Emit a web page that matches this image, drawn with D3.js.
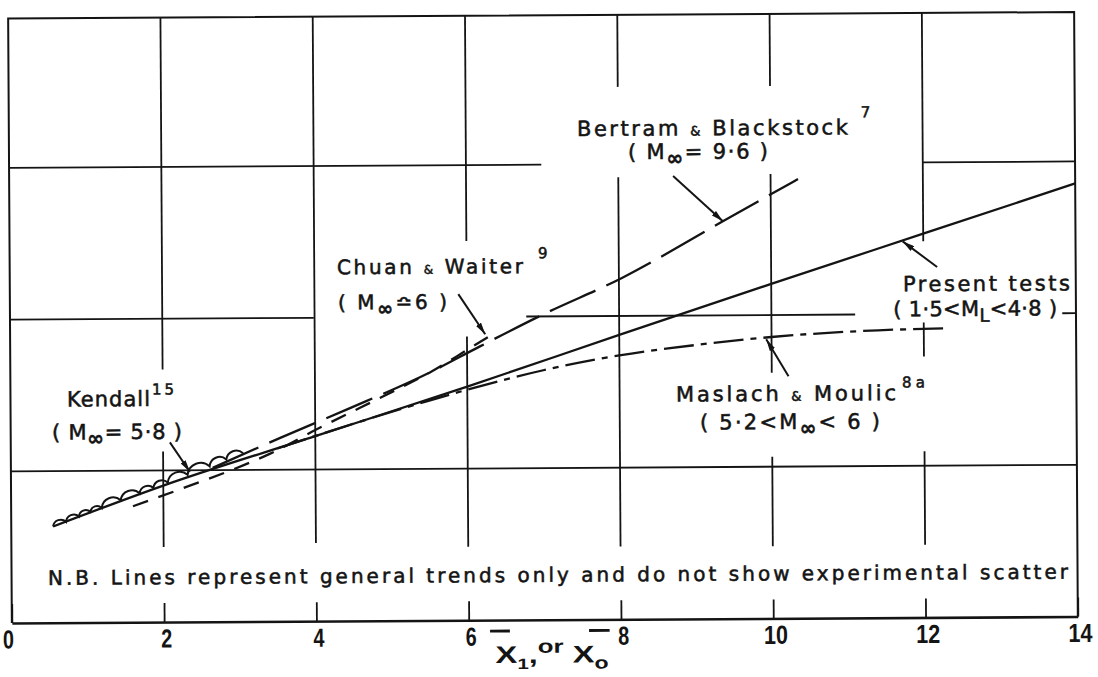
<!DOCTYPE html>
<html>
<head>
<meta charset="utf-8">
<script src="https://cdn.jsdelivr.net/npm/d3@7"></script>
<style>
  html, body { margin: 0; padding: 0; background: #fff; }
  svg { display: block; }
  text { font-family: "DejaVu Sans", "Liberation Sans", sans-serif; fill: #141414; }
</style>
</head>
<body>
<svg id="chart" width="1098" height="677"></svg>
<script>
// ---- data -------------------------------------------------------------
const xTicks = [0, 2, 4, 6, 8, 10, 12, 14];

// Present tests (1.5 < M_L < 4.8) – solid trend line
const presentTests = [[0.55, 1.27], [2, 1.80], [4, 2.44], [6, 3.08], [8, 3.75], [10, 4.41], [12, 5.06], [14, 5.71]];

// Bertram & Blackstock (M = 9.6) – long dashes
const bertram = [[2.65, 2.03], [3.54, 2.42], [4.42, 2.79], [5.51, 3.27], [6.17, 3.61], [7.01, 4.03], [8.04, 4.50], [9.37, 5.24], [10.36, 5.79]];

// Chuan & Waiter (M ~ 6) – short dashes
const chuan = [[1.60, 1.53], [2.33, 1.79], [3.05, 2.06], [3.40, 2.21], [4.02, 2.53], [4.59, 2.81], [5.12, 3.07], [5.51, 3.27], [6.01, 3.57], [6.37, 3.79]];

// Maslach & Moulic (5.2 < M < 6) – chain line
const maslach = [[3.5, 2.28], [4.5, 2.60], [5.5, 2.90], [6.0, 3.04], [7.0, 3.29], [8.0, 3.48], [9.0, 3.61], [10.0, 3.71], [11.4, 3.79], [12.3, 3.81]];

// Kendall (M = 5.8) – cusps of the scalloped trace
const kendall = [[0.55, 1.27], [0.72, 1.33], [0.89, 1.40], [1.04, 1.46], [1.19, 1.51], [1.44, 1.61], [1.69, 1.70], [1.87, 1.77], [2.06, 1.84], [2.32, 1.94], [2.61, 2.05], [2.83, 2.14], [3.05, 2.22]];

// ---- layout -----------------------------------------------------------
const x = d3.scaleLinear().domain([0, 14]).range([10, 1076]);
const y = d3.scaleLinear().domain([0, 8]).range([619.8, 13]);
const ink = "#141414";
const TOP = 7.97;

const svg = d3.select("#chart");
svg.append("rect").attr("width", 1098).attr("height", 677).attr("fill", "#fff");
const g = svg.append("g").attr("transform", "rotate(-0.35,543,320)");

// grid: pieces of the ruled lines, broken where lettering sits
const vGrid = [
  { v: 2,  spans: [[3.33, TOP], [0.99, 2.25]] },
  { v: 4,  spans: [[1.03, TOP]] },
  { v: 6,  spans: [[5.0, TOP], [0.97, 3.74]] },
  { v: 8,  spans: [[7.02, TOP], [0.96, 5.83]] },
  { v: 10, spans: [[7.02, TOP], [3.24, 5.86], [0.95, 2.13]] },
  { v: 12, spans: [[4.96, TOP], [3.44, 3.89], [0.96, 2.19]] }
];
const hGrid = [
  { v: 2, spans: [[0, 14]] },
  { v: 4, spans: [[0, 3.99], [6.78, 11.10], [13.82, 14]] },
  { v: 6, spans: [[0, 6.99], [12.0, 14]] }
];

const grid = g.append("g").attr("stroke", ink).attr("stroke-width", 1.8).attr("fill", "none");
vGrid.forEach(d => d.spans.forEach(s => {
  grid.append("line").attr("x1", x(d.v)).attr("x2", x(d.v)).attr("y1", y(s[0])).attr("y2", y(s[1]));
}));
hGrid.forEach(d => d.spans.forEach(s => {
  grid.append("line").attr("y1", y(d.v)).attr("y2", y(d.v)).attr("x1", x(s[0])).attr("x2", x(s[1]));
}));

// frame
g.append("path")
  .attr("d", `M${x(0)},${y(0)}V${y(TOP)}H${x(14)}V${y(0)}`)
  .attr("fill", "none").attr("stroke", ink).attr("stroke-width", 2);

// bottom axis: short inward ticks and numbers
const axis = d3.axisBottom(x).tickValues(xTicks).tickSizeInner(-19).tickSizeOuter(0).tickPadding(7)
  .tickFormat(d3.format("d"));
const ax = g.append("g").attr("transform", `translate(0,${y(0)})`).call(axis);
ax.select(".domain").attr("stroke", ink).attr("stroke-width", 2.6);
ax.selectAll(".tick line").attr("stroke", ink).attr("stroke-width", 1.8);
ax.selectAll(".tick text")
  .attr("fill", ink)
  .style("font-family", "'Liberation Sans', 'DejaVu Sans', sans-serif")
  .style("font-size", "26px")
  .style("font-weight", "bold")
  .attr("textLength", d => d >= 10 ? 24 : 11)
  .attr("lengthAdjust", "spacingAndGlyphs")
  .attr("dx", d => d === 0 ? -4 : 2);

// axis title: x̄1, or x̄0
const title = g.append("text")
  .attr("x", x(6.35)).attr("y", y(0) + 43)
  .style("font-family", "'Liberation Sans', 'DejaVu Sans', sans-serif")
  .style("font-size", "24px")
  .style("font-weight", "bold")
  .attr("textLength", 113).attr("lengthAdjust", "spacingAndGlyphs");
title.append("tspan").text("X");
title.append("tspan").attr("dy", 6).style("font-size", "15px").text("1");
title.append("tspan").attr("dy", -6).text(",");
title.append("tspan").attr("dy", -10).style("font-size", "19px").text("or");
title.append("tspan").attr("dy", 10).text(" X");
title.append("tspan").attr("dy", 6).style("font-size", "17px").text("o");
[[6.28, 6.54], [7.58, 7.85]].forEach(b => {
  g.append("line").attr("x1", x(b[0])).attr("x2", x(b[1]))
    .attr("y1", y(0) + 11).attr("y2", y(0) + 11)
    .attr("stroke", ink).attr("stroke-width", 2.8);
});

// ---- trend lines ------------------------------------------------------
const line = d3.line().x(d => x(d[0])).y(d => y(d[1])).curve(d3.curveMonotoneX);
const curves = g.append("g").attr("fill", "none").attr("stroke", ink).attr("stroke-width", 2.3);

curves.append("path").datum(presentTests).attr("d", line);
curves.append("path").datum(bertram).attr("d", line).attr("stroke-dasharray", "50,12");
curves.append("path").datum(chuan).attr("d", line).attr("stroke-dasharray", "16,11");
curves.append("path").datum(maslach).attr("d", line).attr("stroke-dasharray", "30,7,6,7");

// Kendall: a run of small arcs between successive cusps
const scallop = pts => {
  let p = `M${x(pts[0][0])},${y(pts[0][1])}`;
  for (let i = 1; i < pts.length; i++) {
    const x0 = x(pts[i - 1][0]), y0 = y(pts[i - 1][1]);
    const x1 = x(pts[i][0]), y1 = y(pts[i][1]);
    const r = 0.56 * Math.hypot(x1 - x0, y1 - y0);
    p += `A${r},${r} 0 0 1 ${x1},${y1}`;
  }
  return p;
};
curves.append("path").datum(kendall).attr("d", scallop).attr("stroke-width", 2);

// ---- pointers ---------------------------------------------------------
const pointers = [
  { from: [2.09, 2.37], to: [2.35, 1.98] },
  { from: [5.89, 4.30], to: [6.24, 3.77] },
  { from: [8.72, 5.84], to: [9.37, 5.24] },
  { from: [12.18, 4.62], to: [11.73, 4.96] },
  { from: [10.22, 3.19], to: [9.93, 3.68] }
];
svg.append("defs").append("marker")
  .attr("id", "head").attr("viewBox", "0 0 12 6").attr("refX", 12).attr("refY", 3)
  .attr("markerWidth", 12).attr("markerHeight", 6).attr("markerUnits", "userSpaceOnUse")
  .attr("orient", "auto")
  .append("path").attr("d", "M0,0L12,3L0,6Z").attr("fill", ink);
g.append("g").selectAll("line").data(pointers).join("line")
  .attr("x1", d => x(d.from[0])).attr("y1", d => y(d.from[1]))
  .attr("x2", d => x(d.to[0])).attr("y2", d => y(d.to[1]))
  .attr("stroke", ink).attr("stroke-width", 2).attr("marker-end", "url(#head)");

// ---- lettering --------------------------------------------------------
const amp = { t: "&", small: true };
const inf = { t: "∞", sub: true, heavy: true };
const notes = [
  { at: [7.46, 6.374], size: 21, len: 271, parts: ["Bertram ", amp, " Blackstock"] },
  { at: [11.19, 6.60], size: 15, parts: ["7"] },
  { at: [8.13, 6.066], size: 21, len: 140, parts: ["( M", inf, "= 9·6 )"] },
  { at: [4.298, 4.572], size: 20, len: 186, parts: ["Chuan ", amp, " Waiter"] },
  { at: [6.94, 4.766], size: 15, parts: ["9"] },
  { at: [4.309, 4.109], size: 20, len: 109, parts: ["( M", inf, "≏6 )"] },
  { at: [0.742, 2.85], size: 21, len: 83, parts: ["Kendall"] },
  { at: [1.859, 3.002], size: 15, len: 22, parts: ["15"] },
  { at: [0.542, 2.416], size: 21, len: 130, parts: ["( M", inf, "= 5·8 )"] },
  { at: [11.73, 4.301], size: 21, len: 167, parts: ["Present tests"] },
  { at: [11.60, 3.972], size: 21, len: 164, parts: ["( 1·5<M", { t: "L", sub: true }, "<4·8 )"] },
  { at: [8.74, 2.867], size: 21, len: 220, parts: ["Maslach ", amp, " Moulic"] },
  { at: [11.71, 3.034], size: 15, len: 23, parts: ["8a"] },
  { at: [9.053, 2.495], size: 21, len: 180, parts: ["( 5·2<M", inf, "< 6 )"] },
  { at: [0.478, 0.50], size: 20, len: 1020, parts: ["N.B. Lines represent general trends only and do not show experimental scatter"] }
];
notes.forEach(n => {
  const t = g.append("text").attr("x", x(n.at[0])).attr("y", y(n.at[1]))
    .style("font-size", n.size + "px")
    .attr("stroke", ink).attr("stroke-width", 0.55);
  if (n.len) t.attr("textLength", n.len).attr("lengthAdjust", "spacing");
  let shift = 0;
  n.parts.forEach(p => {
    const s = typeof p === "string" ? { t: p } : p;
    const ts = t.append("tspan").text(s.t);
    const want = s.sub ? 6 : 0;
    if (want !== shift) { ts.attr("dy", want - shift); shift = want; }
    if (s.sub) ts.style("font-size", Math.round(n.size * (s.heavy ? 0.95 : 0.85)) + "px");
    if (s.heavy) ts.style("font-weight", "bold");
    if (s.small) ts.style("font-size", Math.round(n.size * 0.6) + "px");
  });
});
</script>
</body>
</html>
